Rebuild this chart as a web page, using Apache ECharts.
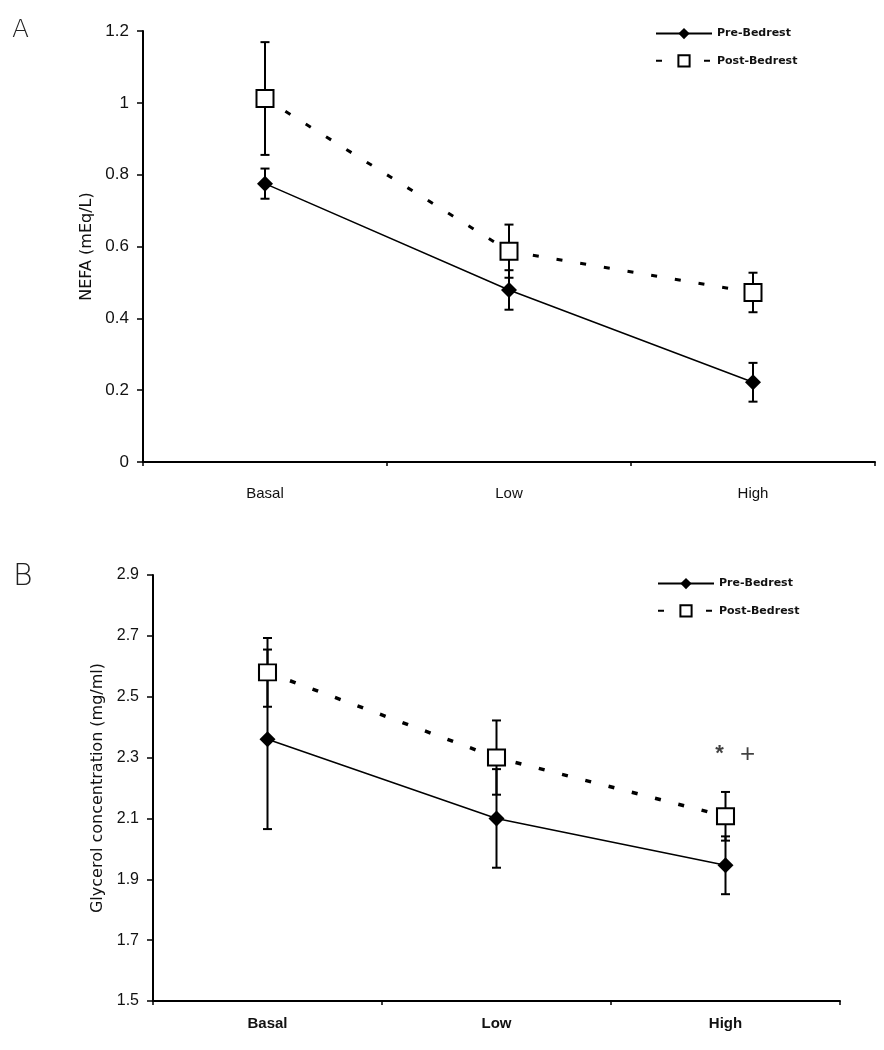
<!DOCTYPE html>
<html>
<head>
<meta charset="utf-8">
<script src="https://cdn.jsdelivr.net/npm/echarts@6/dist/echarts.min.js"></script>
<style>html,body{margin:0;padding:0;background:#fff;}#c{width:884px;height:1050px;}</style>
</head>
<body>
<div id="c"></div>
<script>
const categories = ['Basal', 'Low', 'High'];
const seriesNames = ['Pre-Bedrest', 'Post-Bedrest'];
// Panel A: NEFA (mEq/L)
const nefaPre = [0.775, 0.479, 0.222];
const nefaPreErr = [0.042, 0.055, 0.054];
const nefaPost = [1.012, 0.587, 0.472];
const nefaPostErr = [0.157, 0.074, 0.055];
const nefaTicks = { min: 0, max: 1.2, interval: 0.2 };
// Panel B: Glycerol concentration (mg/ml)
const glyPre = [2.36, 2.10, 1.946];
const glyPreErr = [0.295, 0.162, 0.095];
const glyPost = [2.58, 2.30, 2.107];
const glyPostErr = [0.113, 0.122, 0.08];
const glyTicks = { min: 1.5, max: 2.9, interval: 0.2 };
// Significance marks near High (panel B)
const glyMarks = [
  { cat: 'High', value: 2.33, text: '*' },
  { cat: 'High', value: 2.31, text: '+' }
];

const FONT = 'Liberation Sans, Arial, sans-serif';
const WIDE = 'DejaVu Sans, sans-serif';

function errData(vals, errs) {
  return vals.map((v, i) => [i, v - errs[i], v + errs[i]]);
}
function errRender(params, api) {
  const i = api.value(0);
  const lo = api.coord([i, api.value(1)]);
  const hi = api.coord([i, api.value(2)]);
  const w = 4.5;
  const st = { stroke: '#000', lineWidth: 2 };
  return {
    type: 'group',
    children: [
      { type: 'line', shape: { x1: hi[0], y1: hi[1], x2: lo[0], y2: lo[1] }, style: st },
      { type: 'line', shape: { x1: hi[0] - w, y1: hi[1], x2: hi[0] + w, y2: hi[1] }, style: st },
      { type: 'line', shape: { x1: lo[0] - w, y1: lo[1], x2: lo[0] + w, y2: lo[1] }, style: st }
    ]
  };
}

const chart = echarts.init(document.getElementById('c'), null, { renderer: 'canvas' });

function xAxisCfg(gridIndex, labelMargin, bold, size) {
  return {
    type: 'category', gridIndex, data: categories, boundaryGap: true,
    axisLine: { lineStyle: { color: '#000', width: 2 } },
    axisTick: { show: true, length: 4, lineStyle: { color: '#000', width: 1.5 } },
    axisLabel: { color: '#111', fontSize: size, fontFamily: FONT, fontWeight: bold ? 'bold' : 'normal', margin: labelMargin },
    splitLine: { show: false }
  };
}
function yAxisCfg(gridIndex, ticks, name, nameGap, fmt, fontSize) {
  return {
    type: 'value', gridIndex, min: ticks.min, max: ticks.max, interval: ticks.interval,
    name, nameLocation: 'middle', nameGap, nameRotate: 90,
    nameTextStyle: { color: '#111', fontSize: 16, fontFamily: WIDE },
    axisLine: { show: true, lineStyle: { color: '#000', width: 2 } },
    axisTick: { show: true, length: 6, lineStyle: { color: '#000', width: 1.5 } },
    axisLabel: { color: '#111', fontSize: fontSize, fontFamily: FONT, margin: 14, formatter: fmt },
    splitLine: { show: false }
  };
}

function panelSeries(xi, yi, pre, preErr, post, postErr, postDashWidth, postSym) {
  return [
    { type: 'custom', xAxisIndex: xi, yAxisIndex: yi, renderItem: errRender, data: errData(post, postErr), z: 2, silent: true },
    { type: 'custom', xAxisIndex: xi, yAxisIndex: yi, renderItem: errRender, data: errData(pre, preErr), z: 2, silent: true },
    {
      name: seriesNames[0], type: 'line', xAxisIndex: xi, yAxisIndex: yi, data: pre,
      symbol: 'diamond', symbolSize: 16, z: 4,
      lineStyle: { color: '#000', width: 1.5, type: 'solid' },
      itemStyle: { color: '#000', borderColor: '#000', borderWidth: 0 }
    },
    {
      name: seriesNames[1], type: 'line', xAxisIndex: xi, yAxisIndex: yi, data: post,
      symbol: 'rect', symbolSize: postSym, z: 5,
      lineStyle: { color: '#000', width: postDashWidth, type: [6, 18] },
      itemStyle: { color: '#fff', borderColor: '#000', borderWidth: 2 }
    }
  ];
}

const series = [].concat(
  panelSeries(0, 0, nefaPre, nefaPreErr, nefaPost, nefaPostErr, 3, [17, 17]),
  panelSeries(1, 1, glyPre, glyPreErr, glyPost, glyPostErr, 3.5, [17, 16])
);
series.push({
  type: 'scatter', xAxisIndex: 1, yAxisIndex: 1, symbolSize: 0, silent: true, z: 6,
  data: glyMarks.map((m, k) => ({
    value: [m.cat, m.value],
    label: {
      show: true, formatter: m.text, position: 'inside', color: '#111', fontFamily: FONT,
      fontWeight: k === 0 ? 'bold' : 'normal',
      fontSize: k === 0 ? 22 : 26, offset: k === 0 ? [-6, 5] : [22, 0]
    }
  }))
});

function legendCfg(left, top) {
  return {
    data: seriesNames, orient: 'vertical', left, top, itemWidth: 56, itemHeight: 14, itemGap: 15,
    textStyle: { color: '#111', fontSize: 11, fontWeight: 'bold', fontFamily: WIDE },
    selectedMode: false
  };
}

chart.setOption({
  animation: false,
  backgroundColor: '#fff',
  grid: [
    { left: 143, top: 31, width: 732, height: 431 },
    { left: 153, top: 575, width: 687, height: 426 }
  ],
  legend: [legendCfg(650, 23), legendCfg(652, 573)],
  xAxis: [xAxisCfg(0, 24, false, 15), xAxisCfg(1, 15, true, 15)],
  yAxis: [
    yAxisCfg(0, nefaTicks, 'NEFA (mEq/L)', 47, v => String(+v.toFixed(1)), 17),
    yAxisCfg(1, glyTicks, 'Glycerol concentration (mg/ml)', 45, v => v.toFixed(1), 16)
  ],
  graphic: [
    { type: 'text', left: 12, top: 18, style: { text: 'A', fontSize: 25, fontFamily: WIDE, fontWeight: 'lighter', fill: '#222' } },
    { type: 'text', left: 13, top: 562, style: { text: 'B', fontSize: 30, fontFamily: WIDE, fontWeight: 'lighter', fill: '#222' } }
  ],
  series
});
</script>
</body>
</html>
